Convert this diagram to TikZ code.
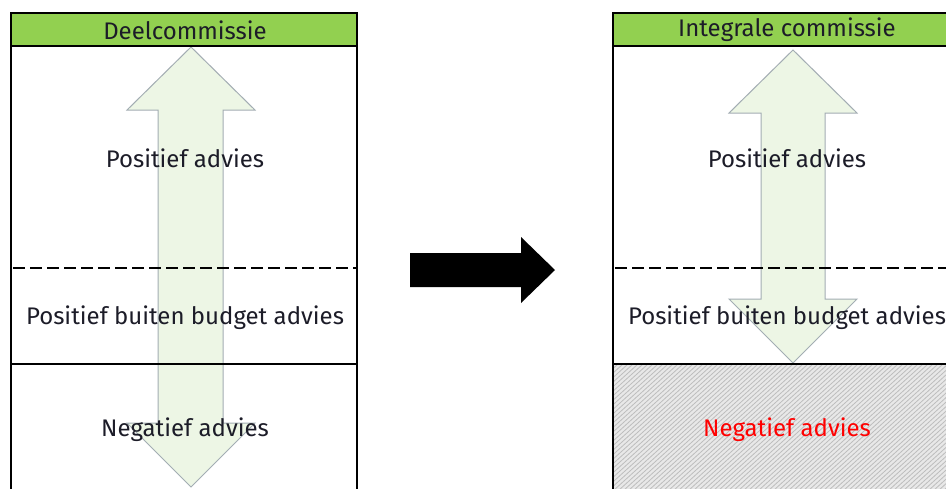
\documentclass[tikz,border=0pt]{standalone}
\usepackage{fontspec}
\setmainfont{Fira Sans}
\usetikzlibrary{calc}
\definecolor{hdrgreen}{HTML}{92D050}
\definecolor{arrowfill}{HTML}{EBF5E1}
\definecolor{arrowedge}{HTML}{A3ADB3}
\definecolor{txt}{HTML}{1C1C28}
\definecolor{hatchbg}{HTML}{E8E8E8}
\definecolor{hatchln}{HTML}{BDBDBD}
\tikzset{
  lbl/.style={font=\fontsize{24}{28}\selectfont, text=txt, inner sep=0pt},
  hdr/.style={font=\fontsize{24}{28}\selectfont, text=txt, inner sep=0pt},
  frame/.style={draw=black, line width=2.8pt},
  dline/.style={draw=black, line width=2.6pt, dash pattern=on 12pt off 5pt},
  bigarrow/.style={fill=arrowfill, draw=arrowedge, line width=1pt, fill opacity=0.85},
}
\begin{document}
\begin{tikzpicture}[x=1pt,y=-1pt]
\useasboundingbox (0,0) rectangle (946,488);
\clip (0,0) rectangle (946,488);
% ---------- left panel ----------
\fill[hdrgreen] (11,13) rectangle (357,46);
\fill[white] (11,46) rectangle (357,500);
\path[bigarrow] (191,47) -- (255,110) -- (223,110) -- (223,423) -- (255,423) -- (191,487)
  -- (127,423) -- (158,423) -- (158,110) -- (127,110) -- cycle;
\draw[dline] (13,268) -- (357,268);
\draw[frame] (11,364) -- (357,364);
\draw[frame] (11,46) -- (357,46);
\draw[frame] (11,500) -- (11,13) -- (357,13) -- (357,500);
\node[hdr] (hL) at (185,30) {Deelcommissie};
\node[lbl] (pL) at (185,158) {Positief advies};
\node[lbl] (bL) at (185,318) {Positief buiten budget advies};
\node[lbl] (nL) at (185,430) {Negatief advies};
% ---------- middle arrow ----------
\fill[black] (410,253) -- (521,253) -- (521,237) -- (555,270) -- (521,303) -- (521,287) -- (410,287) -- cycle;
% ---------- right panel ----------
\fill[hdrgreen] (613,13) rectangle (959,46);
\fill[white] (613,46) rectangle (959,364);
\fill[hatchbg] (613,364) rectangle (959,500);
\begin{scope}
  \clip (613,364) rectangle (959,500);
  \foreach \i in {0,5,...,500} {
    \draw[hatchln, line width=0.8pt] (613+\i-150,500) -- (613+\i,364);
  }
\end{scope}
\path[bigarrow] (793,50) -- (857,113) -- (825,113) -- (825,299) -- (857,299) -- (793,363)
  -- (729,299) -- (761,299) -- (761,113) -- (729,113) -- cycle;
\draw[dline] (615,268) -- (959,268);
\draw[frame] (613,364) -- (959,364);
\draw[frame] (613,46) -- (959,46);
\draw[frame] (613,500) -- (613,13) -- (959,13);
\node[hdr] (hR) at (787,30) {Integrale commissie};
\node[lbl] (pR) at (787,158) {Positief advies};
\node[lbl] (bR) at (787,318) {Positief buiten budget advies};
\node[lbl, text=red] (nR) at (787,430) {Negatief advies};
\end{tikzpicture}
\end{document}
